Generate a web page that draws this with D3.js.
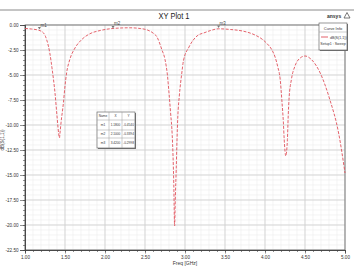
<!DOCTYPE html>
<html>
<head>
<meta charset="utf-8">
<script src="https://cdn.jsdelivr.net/npm/d3@7"></script>
<style>
  body { margin: 0; background: #fff; }
  svg { display: block; font-family: "Liberation Sans", Arial, sans-serif; }
  .tick text { font-size: 4.6px; fill: #333; }
  .domain { stroke: #444; }
</style>
</head>
<body>
<svg width="354" height="267"></svg>
<script>
// S11 sweep (GHz, dB)
const freq = [1.00, 1.08, 1.17, 1.23, 1.27, 1.31, 1.34, 1.375, 1.40, 1.42, 1.43, 1.44, 1.45, 1.48, 1.50, 1.52, 1.56, 1.625, 1.71, 1.81, 1.94, 2.06, 2.125, 2.31, 2.44, 2.53, 2.60, 2.65, 2.71, 2.75, 2.78, 2.80, 2.82, 2.84, 2.85, 2.86, 2.87, 2.88, 2.89, 2.90, 2.91, 2.93, 2.96, 2.98, 3.05, 3.15, 3.25, 3.32, 3.42, 3.57, 3.73, 3.83, 3.90, 3.97, 4.03, 4.08, 4.13, 4.16, 4.19, 4.21, 4.23, 4.24, 4.26, 4.28, 4.29, 4.30, 4.33, 4.375, 4.44, 4.50, 4.58, 4.69, 4.81, 4.92, 5.00]
const s11 = [-0.35, -0.40, -0.52, -0.78, -1.45, -2.8, -4.45, -6.8, -9.1, -10.8, -11.3, -10.6, -9.8, -7.8, -6.1, -4.8, -3.45, -2.3, -1.45, -0.88, -0.55, -0.38, -0.33, -0.28, -0.35, -0.5, -0.8, -1.2, -2.45, -3.45, -5.0, -6.8, -8.8, -11.0, -13.0, -16.0, -20.1, -17.0, -14.5, -11.5, -9.2, -7.0, -4.8, -3.6, -2.2, -1.1, -0.75, -0.55, -0.38, -0.45, -0.62, -0.85, -1.1, -1.45, -1.9, -2.4, -3.3, -4.2, -5.45, -7.45, -9.8, -11.45, -13.1, -11.45, -9.1, -7.45, -5.45, -4.1, -3.3, -3.1, -3.45, -4.8, -7.45, -10.8, -14.8]

const xTicks = [1.0, 1.5, 2.0, 2.5, 3.0, 3.5, 4.0, 4.5, 5.0]
const yTicks = [0, -2.5, -5, -7.5, -10, -12.5, -15, -17.5, -20, -22.5]

const markerNames = ["m1", "m2", "m3"]
const markerX = [1.18, 2.10, 3.42]
const markerY = [-0.4540, -0.3394, -0.2998]

let ob = {}
ob.dim = { left: 25, right: 345, top: 25, bottom: 250 }

ob.x = d3.scaleLinear().domain([1, 5]).range([ob.dim.left, ob.dim.right])
ob.y = d3.scaleLinear().domain([0, -22.5]).range([ob.dim.top, ob.dim.bottom])

let svg = d3.select("svg")

// top separator line and title
svg.append("line").attr("x1", 0).attr("x2", 354).attr("y1", 10).attr("y2", 10)
    .attr("stroke", "#8a8a8a").attr("stroke-width", 1)
svg.append("text").attr("x", 174).attr("y", 19).attr("text-anchor", "middle")
    .attr("font-size", 9).attr("fill", "#222")
    .attr("textLength", 31).attr("lengthAdjust", "spacingAndGlyphs").text("XY Plot 1")

// logo
svg.append("text").attr("x", 327).attr("y", 17.5).attr("font-size", 5)
    .attr("font-weight", "bold").attr("fill", "#333").text("ansys")
svg.append("path").attr("d", "M344,18 L347,12.5 L350,18 Z").attr("fill", "none")
    .attr("stroke", "#555").attr("stroke-width", 0.8)

// grid
let grid = svg.append("g")
let minorX = d3.range(1, 5.0001, 0.1)
let minorY = d3.range(0, -22.5001, -0.5)
grid.selectAll(".vminor").data(minorX).enter().append("line")
    .attr("x1", d => ob.x(d)).attr("x2", d => ob.x(d))
    .attr("y1", ob.dim.top).attr("y2", ob.dim.bottom)
    .attr("stroke", "#ededed").attr("stroke-width", 0.6)
grid.selectAll(".hminor").data(minorY).enter().append("line")
    .attr("y1", d => ob.y(d)).attr("y2", d => ob.y(d))
    .attr("x1", ob.dim.left).attr("x2", ob.dim.right)
    .attr("stroke", "#ededed").attr("stroke-width", 0.6)
grid.selectAll(".vmajor").data(xTicks).enter().append("line")
    .attr("x1", d => ob.x(d)).attr("x2", d => ob.x(d))
    .attr("y1", ob.dim.top).attr("y2", ob.dim.bottom)
    .attr("stroke", "#cfcfcf").attr("stroke-width", 0.8)
grid.selectAll(".hmajor").data(yTicks).enter().append("line")
    .attr("y1", d => ob.y(d)).attr("y2", d => ob.y(d))
    .attr("x1", ob.dim.left).attr("x2", ob.dim.right)
    .attr("stroke", "#cfcfcf").attr("stroke-width", 0.8)

// frame
svg.append("rect").attr("x", ob.dim.left).attr("y", ob.dim.top)
    .attr("width", ob.dim.right - ob.dim.left).attr("height", ob.dim.bottom - ob.dim.top)
    .attr("fill", "none").attr("stroke", "#666").attr("stroke-width", 0.8)

// axes
let fmt = v => v.toFixed(2)
svg.append("g").attr("transform", `translate(0,${ob.dim.bottom})`)
    .call(d3.axisBottom(ob.x).tickValues(minorX).tickSize(2).tickFormat(""))
svg.append("g").attr("transform", `translate(0,${ob.dim.bottom})`)
    .call(d3.axisBottom(ob.x).tickValues(xTicks).tickSize(3.5).tickPadding(2).tickFormat(fmt))
svg.append("g").attr("transform", `translate(${ob.dim.left},0)`)
    .call(d3.axisLeft(ob.y).tickValues(minorY).tickSize(2).tickFormat(""))
svg.append("g").attr("transform", `translate(${ob.dim.left},0)`)
    .call(d3.axisLeft(ob.y).tickValues(yTicks).tickSize(5).tickPadding(1.5).tickFormat(fmt))
svg.selectAll(".tick line").attr("stroke", "#444").attr("stroke-width", 0.6)
svg.selectAll(".domain").attr("stroke-width", 0.8)

// axis titles
svg.append("text").attr("x", 185).attr("y", 265).attr("text-anchor", "middle")
    .attr("font-size", 5).attr("fill", "#333").text("Freq [GHz]")
svg.append("text").attr("transform", "translate(4,140) rotate(-90)").attr("text-anchor", "middle")
    .attr("font-size", 4.6).attr("fill", "#333").text("dB(S(1,1))")

// curve
ob.data = freq.map((f, i) => ({ f: f, v: s11[i] }))
ob.line = d3.line().x(d => ob.x(d.f)).y(d => ob.y(d.v)).curve(d3.curveMonotoneX)
svg.append("path").datum(ob.data).attr("d", ob.line)
    .attr("fill", "none").attr("stroke", "#e0505a").attr("stroke-width", 0.9)
    .attr("stroke-dasharray", "3,1.5")

// markers
let mk = svg.append("g")
markerNames.forEach((n, i) => {
    let mx = ob.x(markerX[i])
    let my = ob.y(markerY[i])
    mk.append("path").attr("d", `M${mx - 1.5},${my - 2.5} L${mx + 1.5},${my - 2.5} L${mx},${my} Z`)
        .attr("fill", "#777")
    mk.append("text").attr("x", mx + 1).attr("y", my - 3).attr("font-size", 4.5)
        .attr("fill", "#444").text(n)
})

// marker table
let tb = { x: 97, y: 112, cols: [0, 12, 25, 38], rowH: [0, 8, 18, 26, 36] }
let table = svg.append("g").attr("transform", `translate(${tb.x},${tb.y})`)
table.append("rect").attr("x", 1).attr("y", 1).attr("width", tb.cols[3]).attr("height", tb.rowH[4])
    .attr("fill", "#777")
table.append("rect").attr("width", tb.cols[3]).attr("height", tb.rowH[4])
    .attr("fill", "#fff").attr("stroke", "#555").attr("stroke-width", 0.6)
let rows = [["Name", "X", "Y"]].concat(markerNames.map((n, i) => [n, markerX[i].toFixed(4), markerY[i].toFixed(4)]))
rows.forEach((r, ri) => {
    if (ri > 0) {
        table.append("line").attr("x1", 0).attr("x2", tb.cols[3])
            .attr("y1", tb.rowH[ri]).attr("y2", tb.rowH[ri]).attr("stroke", "#999").attr("stroke-width", 0.5)
    }
    r.forEach((c, ci) => {
        table.append("text").attr("x", (tb.cols[ci] + tb.cols[ci + 1]) / 2)
            .attr("y", (tb.rowH[ri] + tb.rowH[ri + 1]) / 2 + 1.2)
            .attr("text-anchor", "middle").attr("font-size", 3.2).attr("fill", "#333").text(c)
    })
})
;[1, 2].forEach(ci => {
    table.append("line").attr("x1", tb.cols[ci]).attr("x2", tb.cols[ci])
        .attr("y1", 0).attr("y2", tb.rowH[4]).attr("stroke", "#999").attr("stroke-width", 0.5)
})

// legend
let lg = svg.append("g").attr("transform", "translate(319,23)")
lg.append("rect").attr("x", 1).attr("y", 1).attr("width", 28).attr("height", 27).attr("fill", "#777")
lg.append("rect").attr("width", 28).attr("height", 27).attr("fill", "#fff")
    .attr("stroke", "#555").attr("stroke-width", 0.6)
lg.append("text").attr("x", 14).attr("y", 6.5).attr("text-anchor", "middle")
    .attr("font-size", 4).attr("fill", "#333").text("Curve Info")
lg.append("line").attr("x1", 0).attr("x2", 28).attr("y1", 9).attr("y2", 9)
    .attr("stroke", "#999").attr("stroke-width", 0.5)
lg.append("line").attr("x1", 2).attr("x2", 9).attr("y1", 14).attr("y2", 14)
    .attr("stroke", "#e0505a").attr("stroke-width", 0.9)
lg.append("text").attr("x", 11).attr("y", 15.5).attr("font-size", 3.6)
    .attr("fill", "#333").text("dB(S(1,1))")
lg.append("text").attr("x", 14).attr("y", 22).attr("text-anchor", "middle")
    .attr("font-size", 3.6).attr("fill", "#333").text("Setup1 : Sweep")
</script>
</body>
</html>
